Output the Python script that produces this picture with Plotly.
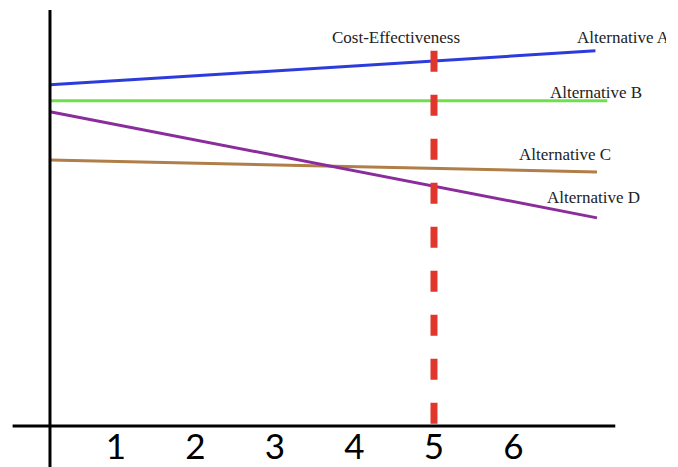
import plotly.graph_objects as go

# ---- data ----
alternatives = ["Alternative A", "Alternative B", "Alternative C", "Alternative D"]
x_start = [0.17, 0.17, 0.17, 0.17]
x_end = [7.03, 7.18, 7.05, 7.05]
y_start = [100.3, 95.6, 78.2, 92.4]
y_end = [110.3, 95.6, 74.7, 61.2]
line_colors = ["#2b3bdc", "#6ee04c", "#b07e48", "#8b2c9c"]

cost_eff_x = 5
cost_eff_y = [110.3, 0]

tick_vals = [1, 2, 3, 4, 5, 6]
tick_text = ["1", "2", "3", "4", "5", "6"]

# label anchor positions (data units)
label_x = [6.77, 6.43, 6.05, 6.40]
label_y = [114.1, 98.2, 79.7, 67.1]

fig = go.Figure()
for name, xs, xe, ys, ye, c in zip(alternatives, x_start, x_end, y_start, y_end, line_colors):
    fig.add_trace(go.Scatter(x=[xs, xe], y=[ys, ye], mode="lines",
                             line=dict(color=c, width=3), name=name,
                             showlegend=False, hoverinfo="skip"))

fig.add_trace(go.Scatter(x=[cost_eff_x, cost_eff_x], y=cost_eff_y, mode="lines",
                         line=dict(color="#e0362c", width=7, dash="21px,23px"),
                         showlegend=False, hoverinfo="skip"))

serif = "Liberation Serif, DejaVu Serif, serif"
for name, lx, ly in zip(alternatives, label_x, label_y):
    fig.add_annotation(x=lx, y=ly, text=name, showarrow=False, xanchor="left",
                       yanchor="middle", font=dict(family=serif, size=17, color="#222"))
fig.add_annotation(x=4.52, y=114.1, text="Cost-Effectiveness", showarrow=False,
                   xanchor="center", yanchor="middle",
                   font=dict(family=serif, size=17, color="#222"))

# axis lines
fig.add_shape(type="line", xref="x", yref="paper", x0=-0.30, x1=7.28, y0=0, y1=0,
              line=dict(color="black", width=3))
fig.add_shape(type="line", xref="x", yref="paper", x0=0.17, x1=0.17, y0=-0.1, y1=0.995,
              line=dict(color="black", width=3))

fig.update_layout(
    width=658, height=459,
    margin=dict(l=0, r=0, t=0, b=41),
    plot_bgcolor="white", paper_bgcolor="white",
    xaxis=dict(range=[-0.358, 7.918], tickvals=tick_vals, ticktext=tick_text,
               showgrid=False, zeroline=False, showline=False, ticks="",
               ticklabelstandoff=-3,
               tickfont=dict(family="Lato, sans-serif", size=35, color="black"),
               fixedrange=True),
    yaxis=dict(range=[0, 122.9], visible=False, fixedrange=True),
)

fig.write_html("out.html")
